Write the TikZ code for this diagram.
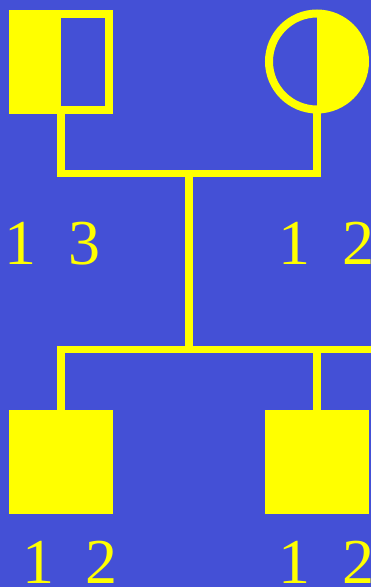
\documentclass[tikz,border=0pt]{standalone}
\usepackage{fontspec}
\setmainfont{Liberation Serif}
\definecolor{bg}{RGB}{68,80,214}
\definecolor{yel}{RGB}{255,255,0}
\begin{document}
\begin{tikzpicture}[x=1pt,y=-1pt,
  ln/.style={draw=yel,line width=7.7pt,line join=miter},
  male/.style={rectangle,draw=yel,line width=8pt,minimum width=96pt,minimum height=96pt,inner sep=0pt,outer sep=0pt},
  female/.style={circle,draw=yel,line width=8pt,minimum size=96pt,inner sep=0pt,outer sep=0pt},
  affected/.style={rectangle,fill=yel,minimum width=104pt,minimum height=104pt,inner sep=0pt,outer sep=0pt},
  lab/.style={anchor=base west,inner sep=0pt,outer sep=0pt,text=yel,font=\fontsize{64}{64}\selectfont}]
\fill[bg] (0,0) rectangle (371,587);
\useasboundingbox (0,0) rectangle (371,587);
% parents
\node[male] (f) at (61,62) {};
\fill[yel] (f.north west) rectangle (f.south);
\node[female] (m) at (317,61.5) {};
\fill[yel] (m.north) arc[start angle=90,end angle=-90,radius=48pt] -- cycle;
% children
\node[affected] (c1) at (61,462) {};
\node[affected] (c2) at (317,462) {};
% connectors
\coordinate (mar) at (189,173.5);
\coordinate (sib) at (189,349.5);
\coordinate (sibend) at (380,349.5);
\draw[ln] (f.south) |- (mar) -| (m.south);
\draw[ln] (mar) -- (sib);
\draw[ln] (c1.north) |- (sibend);
\draw[ln] (c2.north) -- (c2.north |- sib);
% labels
\node[lab] (l1) at (5,264) {1~~3};
\node[lab] (l2) at (278,264) {1~~2};
\node[lab] (l3) at (22,583) {1~~2};
\node[lab] (l4) at (278,583) {1~~2};
\end{tikzpicture}
\end{document}
